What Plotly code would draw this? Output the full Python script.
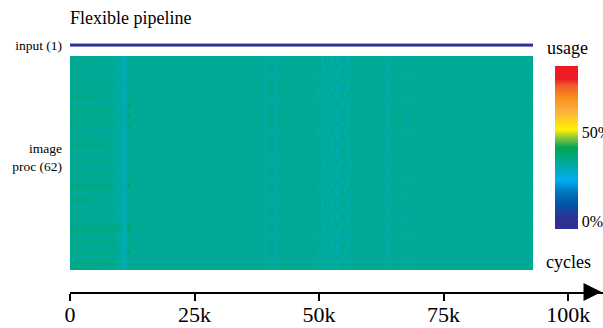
import numpy as np
import plotly.graph_objects as go

# ---------------- data ----------------
BIN = 500                 # cycles per heatmap column
N_CYCLES = 93000          # length of the trace
cycles = np.arange(BIN / 2, N_CYCLES, BIN)

tick_vals = [0, 25000, 50000, 75000, 100000]
tick_text = ["0", "25k", "50k", "75k", "100k"]

row_labels = ["input (1)", "image<br>proc (62)"]

input_usage = 0.0         # input unit stays idle (dark blue)

# per-row baseline usage for the 62 image-proc units
row_base = [0.335, 0.338, 0.332, 0.336, 0.340, 0.334, 0.331, 0.337, 0.341, 0.336,
            0.333, 0.339, 0.335, 0.330, 0.336, 0.340, 0.337, 0.333, 0.338, 0.342,
            0.336, 0.332, 0.335, 0.339, 0.334, 0.337, 0.341, 0.335, 0.331, 0.336,
            0.339, 0.334, 0.332, 0.337, 0.340, 0.335, 0.333, 0.338, 0.336, 0.331,
            0.335, 0.340, 0.337, 0.333, 0.336, 0.339, 0.334, 0.331, 0.336, 0.341,
            0.338, 0.333, 0.335, 0.339, 0.336, 0.332, 0.337, 0.340, 0.335, 0.333,
            0.338, 0.336]

# greener start-up segments (rows, end in k-cycles, usage)
left_rows = [1, 2, 8, 11, 12, 15, 16, 18, 19, 22, 25, 26, 30, 31, 34, 37, 38, 41, 42, 45,
             49, 50, 51, 53, 54, 56, 59, 60, 61]
left_end_k = [6, 6, 7, 7.5, 5, 8.5, 8.5, 8.5, 8.5, 6, 7.5, 7.5, 8, 8, 8.5, 8.5, 8.5, 3.5, 3.5, 7,
              11, 11, 9, 9.5, 9.5, 10, 9.5, 9.5, 6]
left_val = [0.345, 0.344, 0.346, 0.352, 0.347, 0.355, 0.353, 0.353, 0.351, 0.346,
            0.352, 0.350, 0.347, 0.346, 0.349, 0.354, 0.352, 0.354, 0.352, 0.346,
            0.355, 0.353, 0.349, 0.350, 0.349, 0.350, 0.352, 0.350, 0.347]

# slightly bluer patch just before the 11k streak
pre_streak_k = (9.0, 10.5)
pre_streak_val = 0.326

# cyan streak near 11k cycles
streak_k = [10.5, 11.0]
streak_val = [0.305, 0.312]

# yellow-green dots right after the streak
dot_k = 11.5
dot_rows = [14, 17, 20, 37, 49, 50, 56]
dot_val = [0.400, 0.410, 0.395, 0.410, 0.405, 0.395, 0.405]

# faint single-column stripes
stripe_k = [39.0, 41.0, 63.5, 64.0, 67.5]
stripe_val = [0.322, 0.320, 0.326, 0.323, 0.326]

# speckled band 50k-56k (0.5k cells), shifted per row
band_start_k = 50.0
band_pattern = [0.325, 0.312, 0.342, 0.316, 0.330, 0.312, 0.344, 0.308, 0.318, 0.336, 0.342, 0.310]
band_shift = [0, 0, 1, 1, 0, -1, 0, 1, 0, 0,
              -1, -1, 0, 1, 1, 0, 0, -1, 0, 1,
              0, -1, -1, 0, 0, 1, 0, 0, -1, 0,
              1, 1, 0, -1, 0, 0, 1, 0, -1, -1,
              0, 1, 0, 0, 1, -1, 0, 0, 1, 1,
              0, -1, 0, 1, 0, 0, -1, 0, 1, 0,
              -1, 0]

# ---------------- build matrix ----------------
ncol = len(cycles)
nrow = len(row_base)


def col(k):
    return int(round(k * 1000 / BIN))


z = np.tile(np.array(row_base)[:, None], (1, ncol))
z[:, col(pre_streak_k[0]):col(pre_streak_k[1])] = pre_streak_val
for r, e, v in zip(left_rows, left_end_k, left_val):
    z[r, :col(e)] = v
for k, v in zip(streak_k, streak_val):
    z[:, col(k)] = v
for r, v in zip(dot_rows, dot_val):
    z[r, col(dot_k)] = v
for k, v in zip(stripe_k, stripe_val):
    z[:, col(k)] = v
for r in range(nrow):
    s = col(band_start_k) + band_shift[r]
    for j, v in enumerate(band_pattern):
        z[r, s + j] = v

z_input = [[input_usage] * ncol]

# ---------------- figure ----------------
ZMIN, ZMAX = -0.04, 0.87
jet = [[0.00, "#2e3192"], [0.07, "#2e3192"], [0.15, "#0054a6"], [0.22, "#0072bc"],
       [0.30, "#00aeef"], [0.50, "#00a651"], [0.56, "#8dc63f"], [0.61, "#fff200"],
       [0.72, "#fbb040"], [0.80, "#f7941d"], [0.88, "#f15a29"], [0.92, "#ed1c24"],
       [1.00, "#ed1c24"]]

SERIF = "Liberation Serif, Times New Roman, serif"

fig = go.Figure()
fig.add_trace(go.Heatmap(
    z=z_input, x=cycles, y0=-3.6, dy=1,
    zmin=ZMIN, zmax=ZMAX, colorscale=jet, showscale=False, hoverinfo="skip"))
fig.add_trace(go.Heatmap(
    z=z, x=cycles, y=np.arange(nrow),
    zmin=ZMIN, zmax=ZMAX, colorscale=jet,
    colorbar=dict(
        x=(555 - 70) / 533, xanchor="left", y=(292 - 147.5) / 262, yanchor="middle",
        thickness=23, thicknessmode="pixels", len=163, lenmode="pixels",
        outlinewidth=0, xpad=0, ypad=0, ticks="", ticklen=0,
        tickvals=[0, 0.5], ticktext=["0%", "50%"],
        tickfont=dict(family=SERIF, size=16, color="black")),
    hoverinfo="skip"))

fig.update_layout(
    width=603, height=328,
    margin=dict(l=70, r=0, t=30, b=36, autoexpand=False),
    paper_bgcolor="white", plot_bgcolor="white",
    font=dict(family=SERIF, color="black"),
    title=dict(text="Flexible pipeline", x=70 / 603, xanchor="left", xref="container",
               y=1 - 18 / 328, yanchor="middle", yref="container",
               font=dict(family=SERIF, size=18, color="black")),
    xaxis=dict(range=[0, 107000], showline=True, linewidth=2, linecolor="black",
               ticks="outside", ticklen=7, tickwidth=2, tickcolor="black",
               tickvals=tick_vals, ticktext=tick_text, automargin=False,
               ticklabelstandoff=-5,
               tickfont=dict(family=SERIF, size=22, color="black"),
               showgrid=False, zeroline=False),
    yaxis=dict(range=[67.87, -8.03], showline=False, showgrid=False, zeroline=False,
               ticks="", tickvals=[-3.5, 28.9], ticktext=row_labels,
               ticklabelstandoff=7, automargin=False,
               tickfont=dict(family=SERIF, size=13.5, color="black")),
    annotations=[
        dict(text="usage", xref="paper", yref="paper", x=(545 - 70) / 533, y=(292 - 48) / 262,
             xanchor="left", yanchor="middle", showarrow=False,
             font=dict(family=SERIF, size=18, color="black")),
        dict(text="cycles", xref="paper", yref="paper", x=(544 - 70) / 533, y=(292 - 262) / 262,
             xanchor="left", yanchor="middle", showarrow=False,
             font=dict(family=SERIF, size=18, color="black")),
        dict(text="", x=106700, y=0, xref="x", yref="paper", showarrow=True,
             ax=-16, ay=0, axref="pixel", ayref="pixel",
             arrowhead=2, arrowsize=1.8, arrowwidth=2, arrowcolor="black"),
    ],
)

fig.write_html("out.html", config={"displayModeBar": False},
               post_script="document.body.style.margin='0';document.body.style.overflow='hidden';")
